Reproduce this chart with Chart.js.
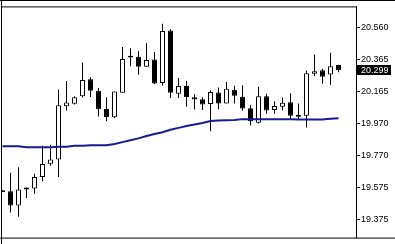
<!DOCTYPE html>
<html><head><meta charset="utf-8">
<script src="https://cdn.jsdelivr.net/npm/chart.js@4/dist/chart.umd.min.js"></script>
<style>html,body{margin:0;padding:0;background:#fff;overflow:hidden}canvas{display:block}</style>
</head><body>
<canvas id="c" width="395" height="244"></canvas>
<script>
// bar index (slot) of each candle; -1 is partly hidden behind the left edge
const BAR = [-1,0,1,2,3,4,5,6,7,8,9,10,11,12,13,14,15,16,17,18,19,20,21,22,23,24,25,26,27,28,29,30,31,32,33,34,35,36,37,38,39,40,41];
const OPEN  = [19.556,19.550,19.462,19.560,19.566,19.638,19.719,19.745,20.074,20.090,20.137,20.241,20.171,20.058,20.006,20.158,20.375,20.381,20.319,20.363,20.218,20.542,20.152,20.200,20.130,20.118,20.088,20.160,20.092,20.176,20.134,20.062,19.972,20.136,20.052,20.072,20.100,20.022,20.016,20.275,20.297,20.271,20.329];
const HIGH  = [19.556,19.663,19.698,19.572,19.657,19.831,19.837,20.177,20.231,20.136,20.345,20.253,20.188,20.130,20.166,20.440,20.433,20.415,20.464,20.409,20.584,20.550,20.249,20.231,20.148,20.130,20.174,20.191,20.225,20.201,20.204,20.082,20.195,20.152,20.106,20.128,20.155,20.092,20.295,20.394,20.307,20.405,20.331];
const LOW   = [19.544,19.418,19.392,19.508,19.534,19.611,19.707,19.638,20.048,20.086,20.128,20.131,20.012,19.982,20.002,20.158,20.321,20.269,20.319,20.212,20.203,20.125,20.125,20.072,20.054,20.052,19.920,20.056,20.092,20.091,20.046,19.956,19.968,20.028,20.028,20.048,19.992,19.992,19.943,20.261,20.213,20.207,20.285];
const CLOSE = [19.544,19.462,19.560,19.572,19.638,19.717,19.745,20.080,20.098,20.130,20.237,20.170,20.056,20.008,20.166,20.367,20.387,20.319,20.361,20.215,20.540,20.158,20.200,20.131,20.116,20.085,20.163,20.092,20.182,20.139,20.060,19.982,20.136,20.048,20.076,20.096,20.016,20.010,20.279,20.291,20.257,20.321,20.299];
const MA    = [19.828,19.828,19.828,19.822,19.822,19.822,19.822,19.825,19.825,19.831,19.831,19.834,19.834,19.834,19.841,19.853,19.864,19.876,19.891,19.903,19.914,19.929,19.941,19.953,19.962,19.971,19.983,19.986,19.988,19.989,19.995,19.995,19.995,19.995,19.995,19.995,19.995,19.992,19.992,19.992,19.992,19.998,20.001];
const TICKS = [20.560,20.365,20.165,19.970,19.770,19.575,19.375];

const wickData = BAR.map((x,i)=>({x:x, y:[LOW[i], HIGH[i]]}));
const bodyData = BAR.map((x,i)=>({x:x, y:[OPEN[i], CLOSE[i]]}));
const bodyFill = BAR.map((x,i)=> CLOSE[i] >= OPEN[i] ? '#ffffff' : '#000000');
const maData = BAR.map((x,i)=>({x:x, y:MA[i]}));

const framePlugin = {
  id:'frame',
  afterDraw(chart){
    const ctx = chart.ctx, a = chart.chartArea;
    ctx.save();
    ctx.strokeStyle = '#000'; ctx.lineWidth = 1;
    ctx.beginPath();
    ctx.moveTo(0, 0.5); ctx.lineTo(395, 0.5);
    ctx.moveTo(1, a.top + 0.5); ctx.lineTo(a.right, a.top + 0.5);
    ctx.moveTo(1.5, 0); ctx.lineTo(1.5, 244);
    ctx.moveTo(0, a.bottom + 0.5); ctx.lineTo(395, a.bottom + 0.5);
    ctx.stroke();
    // current price label
    const y = Math.round(chart.scales.y.getPixelForValue(CLOSE[CLOSE.length-1]));
    ctx.fillStyle = '#000';
    ctx.fillRect(a.right + 1, y - 5, 34, 10);
    ctx.fillStyle = '#fff';
    ctx.font = '9px "Liberation Sans"';
    ctx.textBaseline = 'middle';
    ctx.textAlign = 'left';
    ctx.fillText(CLOSE[CLOSE.length-1].toFixed(3), a.right + 5, y + 0.5);
    ctx.restore();
  }
};

new Chart(document.getElementById('c'), {
  type:'bar',
  data:{datasets:[
    {type:'line', data:maData, borderColor:'#1a1a94', borderWidth:2, pointRadius:0, tension:0, order:0},
    {data:bodyData, backgroundColor:bodyFill, borderColor:'#000', borderWidth:1, borderSkipped:false, barThickness:5, grouped:false, inflateAmount:0, order:1, clip:0},
    {data:wickData, backgroundColor:'#000', borderWidth:0, barThickness:1, grouped:false, inflateAmount:0, order:2, clip:0}
  ]},
  options:{
    responsive:false, animation:false, devicePixelRatio:1,
    layout:{padding:{left:2, top:3, bottom:2, right:0}},
    plugins:{legend:{display:false}, tooltip:{enabled:false}},
    scales:{
      x:{type:'linear', display:false, min:-1.0625, max:43.1875, offset:false},
      y:{position:'right', min:19.263, max:20.6915,
         afterFit(s){ s.width = 39; },
         afterBuildTicks(s){ s.ticks = TICKS.map(v=>({value:v})); },
         grid:{drawOnChartArea:false, drawTicks:true, tickLength:4, color:'#000'},
         border:{display:true, color:'#000', width:1},
         ticks:{padding:1, color:'#000', font:{family:'Liberation Sans', size:9}, callback:v=>Number(v).toFixed(3)}
      }
    }
  },
  plugins:[framePlugin]
});
</script></body></html>
